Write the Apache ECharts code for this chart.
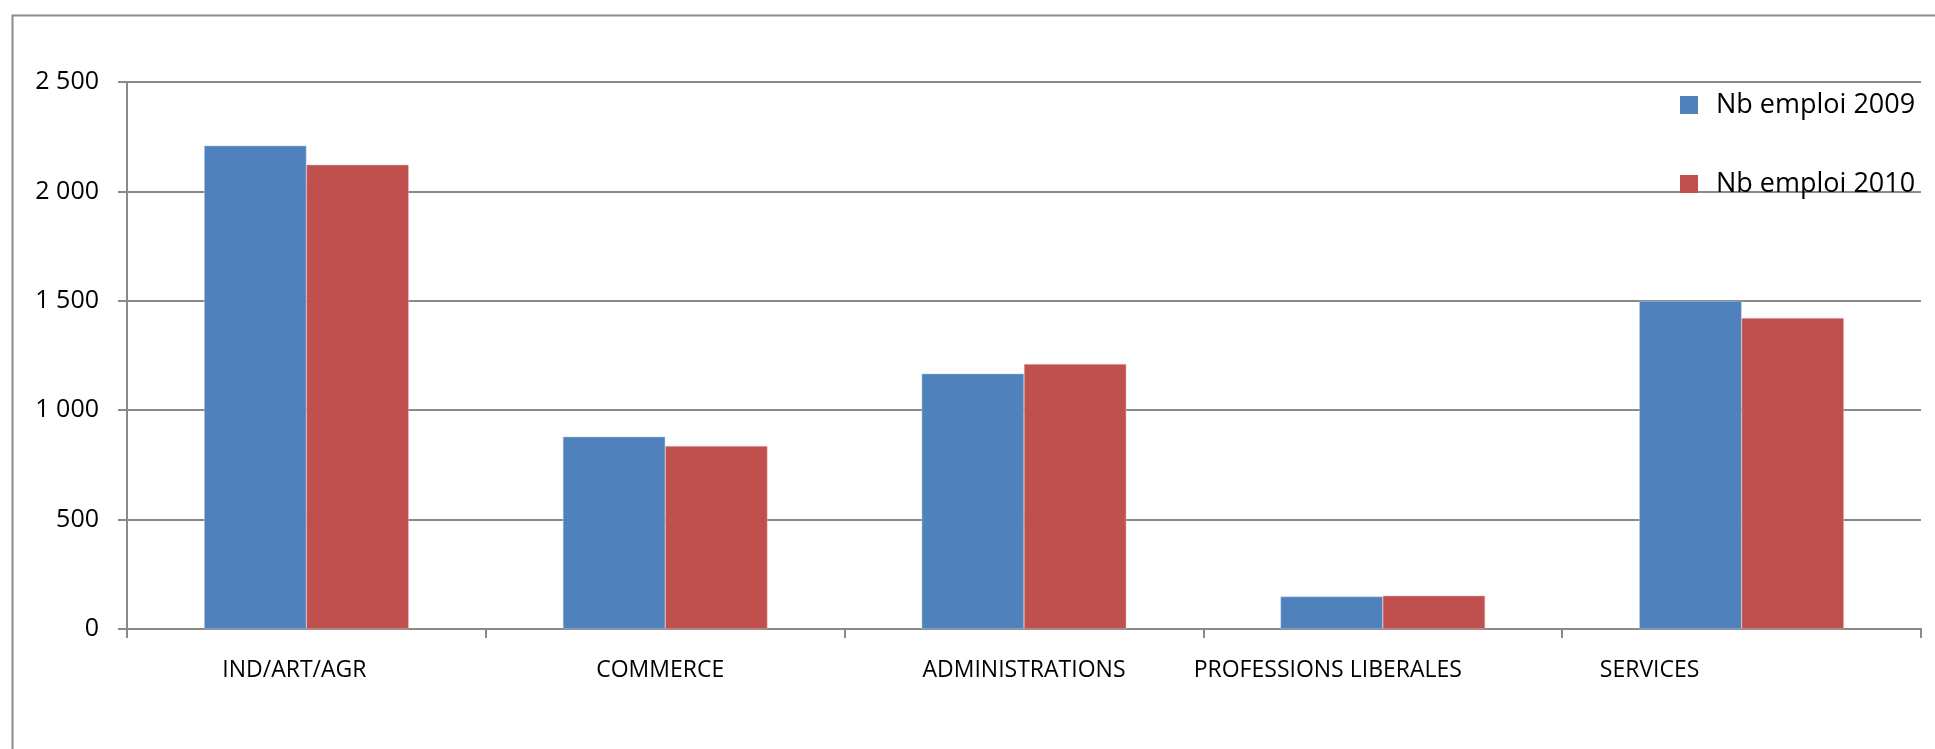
<!DOCTYPE html>
<html>
<head>
<meta charset="utf-8">
<script src="https://cdn.jsdelivr.net/npm/echarts@6/dist/echarts.min.js"></script>
<style>
html,body{margin:0;padding:0;background:#fff;}
#chart{width:1935px;height:749px;}
</style>
</head>
<body>
<div id="chart"></div>
<script>
const categories = ['IND/ART/AGR', 'COMMERCE', 'ADMINISTRATIONS', 'PROFESSIONS LIBERALES', 'SERVICES'];
const seriesNames = ['Nb emploi 2009', 'Nb emploi 2010'];
const emploi2009 = [2209, 879, 1167, 148, 1499];
const emploi2010 = [2122, 836, 1211, 152, 1421];
const yTicks = [0, 500, 1000, 1500, 2000, 2500];

const FONT = '"Open Sans", sans-serif';
const labelShift = [-12, -5, 0, -55, -92];
const rich = {};
labelShift.forEach((s, i) => {
  rich['l' + i] = {
    fontFamily: FONT, fontSize: 23, color: '#000',
    padding: s < 0 ? [0, -2 * s, 0, 0] : [0, 0, 0, 2 * s]
  };
});

function fmtNum(v) {
  return String(v).replace(/\B(?=(\d{3})+(?!\d))/g, ' ');
}

const chart = echarts.init(document.getElementById('chart'), null, {renderer: 'canvas'});
chart.setOption({
  animation: false,
  backgroundColor: '#fff',
  graphic: [{
    type: 'rect',
    left: 10, top: 13,
    shape: {width: 2000, height: 800},
    style: {fill: 'none', stroke: '#8a8a8a', lineWidth: 2},
    silent: true, z: -1
  }],
  grid: {left: 127, right: 14, top: 82, bottom: 120, containLabel: false},
  legend: {
    orient: 'vertical',
    left: 1675, top: 86,
    itemWidth: 18, itemHeight: 18,
    itemGap: 51,
    icon: 'rect',
    data: seriesNames,
    itemStyle: {borderWidth: 0},
    textStyle: {fontFamily: FONT, fontSize: 27, color: '#000', lineHeight: 28, padding: [0, 0, 0, 13]}
  },
  xAxis: {
    type: 'category',
    data: categories,
    boundaryGap: true,
    axisLine: {show: true, lineStyle: {color: '#8a8a8a', width: 2}},
    axisTick: {show: true, length: 9, alignWithLabel: false, lineStyle: {color: '#8a8a8a', width: 2}},
    axisLabel: {
      interval: 0,
      margin: 30,
      formatter: (val, idx) => '{l' + idx + '|' + val + '}',
      rich: rich
    },
    splitLine: {show: false}
  },
  yAxis: {
    type: 'value',
    min: yTicks[0], max: yTicks[yTicks.length - 1], interval: yTicks[1] - yTicks[0],
    axisLine: {show: true, lineStyle: {color: '#8a8a8a', width: 2}},
    axisTick: {show: true, length: 9, lineStyle: {color: '#8a8a8a', width: 2}},
    axisLabel: {
      margin: 28,
      fontFamily: FONT, fontSize: 25, color: '#000',
      formatter: v => fmtNum(v)
    },
    splitLine: {show: true, lineStyle: {color: '#8a8a8a', width: 2}}
  },
  series: [
    {
      name: seriesNames[0], type: 'bar', data: emploi2009,
      barGap: '0%', barCategoryGap: '43%',
      itemStyle: {color: '#4F81BD', borderColor: '#B9CDE5', borderWidth: 0.5}
    },
    {
      name: seriesNames[1], type: 'bar', data: emploi2010,
      barGap: '0%', barCategoryGap: '43%',
      itemStyle: {color: '#C0504D', borderColor: '#E6B9B8', borderWidth: 0.5}
    }
  ]
});
</script>
</body>
</html>
